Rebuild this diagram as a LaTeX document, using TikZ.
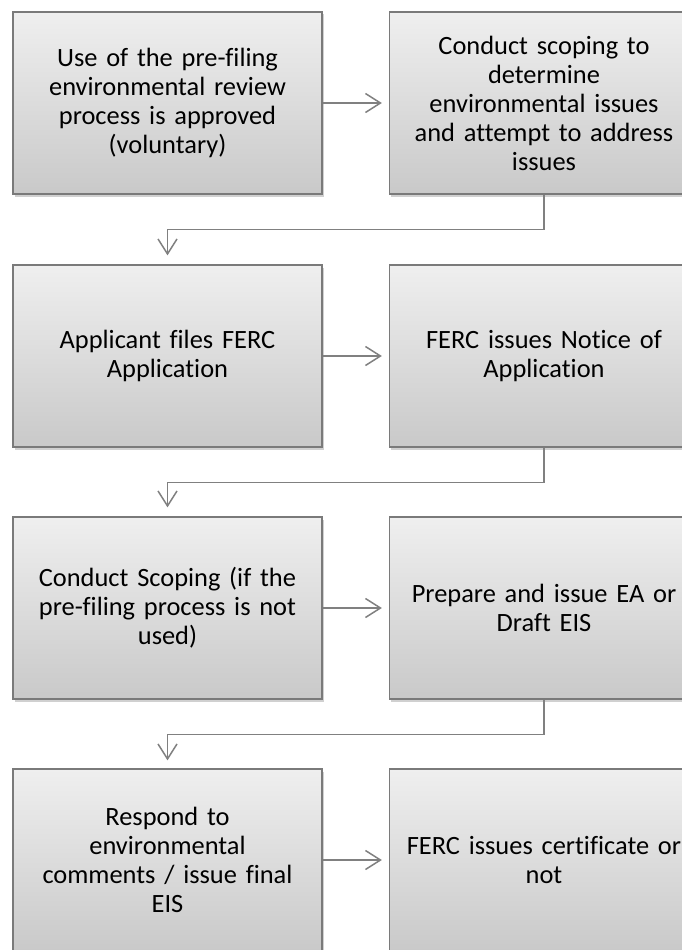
\documentclass[tikz,border=0pt]{standalone}
\usepackage{fontspec}
\setmainfont{Carlito}[Ligatures={NoCommon,NoContextual}]
\usetikzlibrary{arrows.meta,shadows}
\definecolor{boxtop}{HTML}{EFEFEF}
\definecolor{boxbot}{HTML}{C9C9C9}
\definecolor{edgegray}{HTML}{7A7A7A}
\definecolor{conngray}{HTML}{808080}
\begin{document}
\begin{tikzpicture}[x=1pt,y=1pt,
  stepbox/.style={draw=edgegray, line width=1.3pt, top color=boxtop, bottom color=boxbot,
    minimum width=309pt, minimum height=182pt, text width=302pt, inner sep=0pt,
    align=center, font=\fontsize{26.4}{29}\selectfont,
    drop shadow={shadow xshift=1.5pt, shadow yshift=-2.5pt, opacity=0.3, fill=black!60}},
  conn/.style={draw=conngray, line width=1.5pt, -{Straight Barb[length=15pt,width=19pt]}}]
\fill[white] (0,0) rectangle (682,-950);
\path[use as bounding box] (0,0) rectangle (682,-950);
\clip (0,0) rectangle (682,-950);

\node[stepbox] (a1) at (167.5,-103) {Use of the pre-filing\\environmental review\\process is approved\\(voluntary)};
\node[stepbox] (a2) at (544,-103) {Conduct scoping to\\determine\\environmental issues\\and attempt to address\\issues};
\node[stepbox] (b1) at (167.5,-356) {Applicant files FERC\\Application};
\node[stepbox] (b2) at (544,-356) {FERC issues Notice of\\Application};
\node[stepbox] (c1) at (167.5,-608) {Conduct Scoping (if the\\pre-filing process is not\\used)};
\node[stepbox] (c2) at (544,-608) {Prepare and issue EA or\\Draft EIS};
\node[stepbox] (d1) at (167.5,-860) {Respond to\\environmental\\comments / issue final\\EIS};
\node[stepbox] (d2) at (544,-860) {FERC issues certificate or\\not};

\draw[conn, shorten >=7pt] (a1) -- (a2);
\draw[conn, shorten >=7pt] (b1) -- (b2);
\draw[conn, shorten >=7pt] (c1) -- (c2);
\draw[conn, shorten >=7pt] (d1) -- (d2);

\draw[conn, shorten >=9pt] (a2.south) -- ++(0,-35) -| (b1.north);
\draw[conn, shorten >=9pt] (b2.south) -- ++(0,-35) -| (c1.north);
\draw[conn, shorten >=8pt] (c2.south) -- ++(0,-35) -| (d1.north);
\end{tikzpicture}
\end{document}
